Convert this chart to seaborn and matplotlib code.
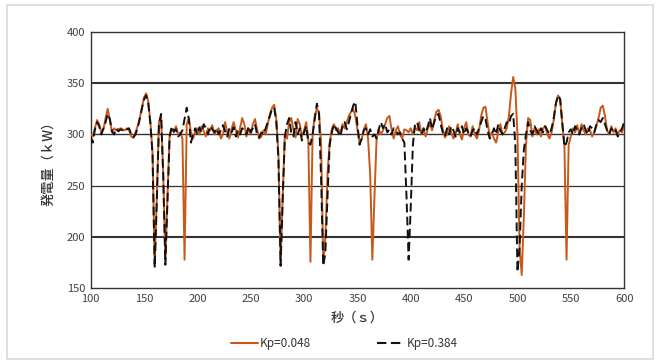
import matplotlib
matplotlib.use("Agg")
import matplotlib.pyplot as plt
import seaborn as sns
import pandas as pd
from matplotlib.patches import Rectangle
from matplotlib.lines import Line2D

# time axis (seconds), sampled every 2 s
seconds = list(range(100, 601, 2))

# generator output (kW), Kp = 0.048
kp_0048 = [
    300, 298, 306, 314, 310, 302, 305, 316, 325, 314,
    302, 306, 304, 305, 306, 305, 304, 306, 304, 298,
    297, 302, 308, 316, 326, 336, 340, 332, 312, 282,
    172, 240, 312, 318, 262, 176, 240, 300, 305, 302,
    308, 300, 302, 296, 178, 310, 316, 302, 296, 303,
    306, 300, 308, 303, 298, 306, 304, 309, 300, 304,
    306, 296, 300, 312, 302, 296, 305, 312, 304, 297,
    306, 316, 310, 298, 306, 300, 310, 315, 305, 296,
    298, 304, 300, 310, 320, 326, 329, 315, 280, 174,
    240, 300, 296, 312, 316, 305, 297, 315, 310, 298,
    304, 312, 295, 176, 300, 318, 325, 322, 290, 175,
    200, 262, 292, 305, 310, 304, 306, 300, 310, 306,
    312, 318, 322, 325, 318, 305, 292, 295, 305, 310,
    296, 260, 178, 240, 296, 305, 300, 304, 310, 316,
    318, 305, 296, 304, 308, 300, 296, 305, 304, 302,
    306, 300, 307, 304, 312, 300, 304, 298, 306, 310,
    304, 314, 322, 324, 318, 305, 297, 300, 308, 302,
    296, 300, 310, 300, 295, 306, 312, 300, 298, 308,
    300, 296, 304, 318, 326, 327, 312, 298, 302, 296,
    292, 302, 310, 300, 302, 306, 318, 340, 356, 345,
    300, 190, 163, 220, 290, 316, 314, 298, 306, 300,
    305, 298, 306, 308, 300, 296, 302, 314, 330, 338,
    335, 310, 290, 178, 290, 298, 306, 302, 309, 300,
    310, 304, 300, 306, 304, 298, 302, 308, 316, 326,
    328, 318, 304, 300, 308, 302, 306, 300, 304, 302,
    308,
]

# generator output (kW), Kp = 0.384
kp_0384 = [
    298, 292, 305, 312, 308, 300, 306, 312, 320, 315,
    303, 300, 306, 303, 305, 304, 306, 305, 306, 300,
    297, 300, 306, 315, 325, 334, 338, 330, 310, 280,
    170, 235, 310, 320, 260, 173, 235, 298, 308, 303,
    305, 298, 300, 304, 315, 326, 315, 292, 300, 306,
    300, 307, 302, 310, 306, 300, 308, 305, 302, 306,
    300, 304, 309, 303, 298, 306, 302, 307, 298, 304,
    300, 306, 304, 300, 308, 302, 306, 310, 300, 297,
    302, 300, 306, 312, 318, 325, 326, 312, 275, 172,
    238, 298, 310, 316, 302, 298, 312, 300, 306, 294,
    302, 308, 292, 290, 300, 315, 330, 320, 255, 172,
    185, 240, 290, 302, 310, 306, 302, 298, 308, 312,
    305, 312, 320, 328, 332, 310, 290, 296, 304, 306,
    300, 305, 298, 300, 296, 305, 312, 306, 310, 302,
    305, 300, 306, 304, 300, 302, 296, 292, 240, 178,
    230, 290, 310, 312, 304, 300, 306, 302, 308, 316,
    305, 312, 318, 320, 310, 302, 298, 306, 300, 308,
    304, 298, 306, 302, 308, 300, 306, 302, 298, 304,
    306, 300, 306, 312, 318, 315, 304, 296, 300, 306,
    300, 310, 304, 300, 306, 312, 310, 318, 320, 290,
    166, 190, 250, 285, 300, 312, 304, 300, 308, 304,
    300, 306, 302, 308, 304, 300, 306, 316, 330, 338,
    334, 312, 288, 292, 302, 305, 300, 308, 304, 300,
    306, 310, 304, 300, 308, 306, 302, 310, 314, 312,
    316, 310, 304, 300, 306, 302, 304, 298, 302, 306,
    312,
]

series_names = ["Kp=0.048", "Kp=0.384"]
y_ticks = [150, 200, 250, 300, 350, 400]
x_ticks = list(range(100, 601, 50))

df = pd.concat([
    pd.DataFrame({"t": seconds, "kw": kp_0048, "series": series_names[0]}),
    pd.DataFrame({"t": seconds, "kw": kp_0384, "series": series_names[1]}),
])

sns.set_theme(style="white")
plt.rcParams["font.family"] = ["Noto Sans CJK JP", "DejaVu Sans"]

fig = plt.figure(figsize=(6.57, 3.61), dpi=100)
ax = fig.add_axes([0.138, 0.201, 0.812, 0.711])

# outer light frame
fig.patches.append(Rectangle((0.011, 0.006), 0.983, 0.98, transform=fig.transFigure,
                             fill=False, edgecolor="#d9d9d9", linewidth=1.2))

# horizontal gridlines
grid_w = {150: 0, 200: 1.5, 250: 0.9, 300: 1.0, 350: 1.5, 400: 0}
for v in y_ticks:
    if grid_w[v] > 0:
        ax.axhline(v, color="#333333", linewidth=grid_w[v], zorder=1)

palette = {series_names[0]: "#c8591a", series_names[1]: "#111111"}
dashes = {series_names[0]: "", series_names[1]: (4.5, 2.2)}
sns.lineplot(data=df, x="t", y="kw", hue="series", style="series",
             palette=palette, dashes=dashes, linewidth=1.4, ax=ax,
             legend=False, zorder=3)

ax.set_xlim(100, 600)
ax.set_ylim(150, 400)
ax.set_xticks(x_ticks)
ax.set_yticks(y_ticks)
ax.tick_params(axis="both", length=0, labelsize=8, colors="#404040", pad=4)
for s in ax.spines.values():
    s.set_color("#333333")
    s.set_linewidth(1.0)

ax.set_xlabel("秒（ｓ）", fontsize=9.5, color="#333333", labelpad=5, fontweight="medium")
ax.set_ylabel("発電量（ｋW）", fontsize=9.5, color="#333333", labelpad=8, fontweight="medium")

handles = [Line2D([], [], color=palette[series_names[0]], linewidth=1.5),
           Line2D([], [], color=palette[series_names[1]], linewidth=1.5, dashes=(4.5, 2.2))]
fig.legend(handles, series_names, loc="center", bbox_to_anchor=(0.524, 0.048),
           ncol=2, frameon=False, fontsize=8.5, handlelength=2.3, handletextpad=0.2,
           columnspacing=5.6, labelcolor="#333333")

fig.savefig("out.png", dpi=100)
